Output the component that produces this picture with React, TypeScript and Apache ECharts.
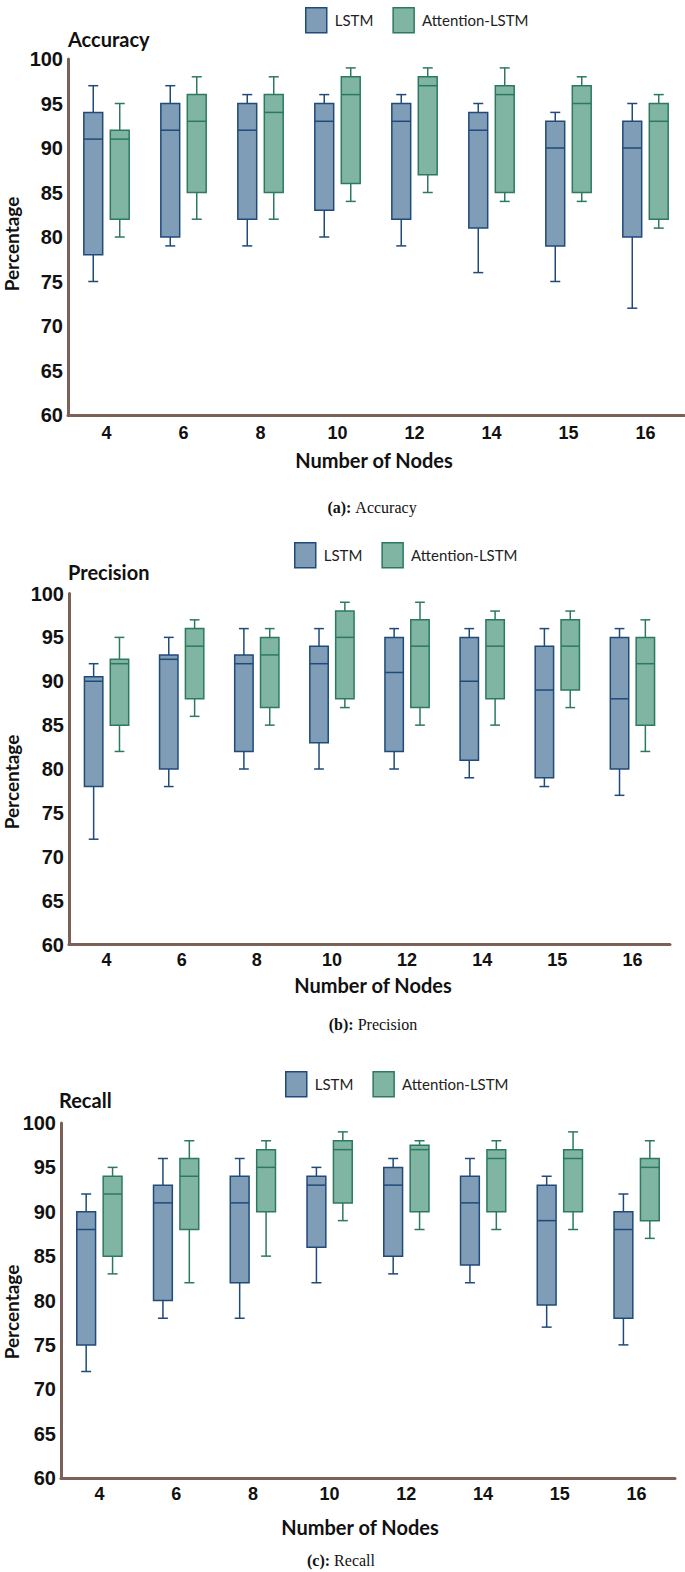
import React, { useEffect, useRef } from "react";
import * as echarts from "echarts";

const categories = ["4", "6", "8", "10", "12", "14", "15", "16"];
const yTicks = { min: 60, max: 100, interval: 5 };
const seriesNames = ["LSTM", "Attention-LSTM"];
const titles = ["Accuracy", "Precision", "Recall"];
const captionLetters = ["(a):", "(b):", "(c):"];

// each row: [min, Q1, median, Q3, max]
const accuracyLstm = [
  [75, 78, 91, 94, 97], [79, 80, 92, 95, 97], [79, 82, 92, 95, 96], [80, 83, 93, 95, 96],
  [79, 82, 93, 95, 96], [76, 81, 92, 94, 95], [75, 79, 90, 93, 94], [72, 80, 90, 93, 95],
];
const accuracyAtt = [
  [80, 82, 91, 92, 95], [82, 85, 93, 96, 98], [82, 85, 94, 96, 98], [84, 86, 96, 98, 99],
  [85, 87, 97, 98, 99], [84, 85, 96, 97, 99], [84, 85, 95, 97, 98], [81, 82, 93, 95, 96],
];
const precisionLstm = [
  [72, 78, 90, 90.5, 92], [78, 80, 92.5, 93, 95], [80, 82, 92, 93, 96], [80, 83, 92, 94, 96],
  [80, 82, 91, 95, 96], [79, 81, 90, 95, 96], [78, 79, 89, 94, 96], [77, 80, 88, 95, 96],
];
const precisionAtt = [
  [82, 85, 92, 92.5, 95], [86, 88, 94, 96, 97], [85, 87, 93, 95, 96], [87, 88, 95, 98, 99],
  [85, 87, 94, 97, 99], [85, 88, 94, 97, 98], [87, 89, 94, 97, 98], [82, 85, 92, 95, 97],
];
const recallLstm = [
  [72, 75, 88, 90, 92], [78, 80, 91, 93, 96], [78, 82, 91, 94, 96], [82, 86, 93, 94, 95],
  [83, 85, 93, 95, 96], [82, 84, 91, 94, 96], [77, 79.5, 89, 93, 94], [75, 78, 88, 90, 92],
];
const recallAtt = [
  [83, 85, 92, 94, 95], [82, 88, 94, 96, 98], [85, 90, 95, 97, 98], [89, 91, 97, 98, 99],
  [88, 90, 97, 97.5, 98], [88, 90, 96, 97, 98], [88, 90, 96, 97, 99], [87, 89, 95, 96, 98],
];

const panelData = [
  [accuracyLstm, accuracyAtt],
  [precisionLstm, precisionAtt],
  [recallLstm, recallAtt],
];

const COLORS = [
  { fill: "#809db7", stroke: "#1f4a7a" },
  { fill: "#80b5a4", stroke: "#2b7a5d" },
];
const AXIS_COLOR = "#7b6157";
const SANS = "Lato";

// layout per panel
const grids = [
  { left: 68, top: 59, width: 616, height: 356 },
  { left: 69, top: 593.5, width: 601, height: 351 },
  { left: 61, top: 1123, width: 614, height: 355 },
];
const legendPos = [
  { left: 300, top: 2 },
  { left: 289, top: 537 },
  { left: 280, top: 1066 },
];
const titlePos = [
  { x: 68, y: 39 },
  { x: 68, y: 572 },
  { x: 59, y: 1100 },
];
const xNamePos = [
  { x: 374, y: 460 },
  { x: 373, y: 985 },
  { x: 360, y: 1527 },
];
const yNamePos = [
  { x: 11, y: 244 },
  { x: 11, y: 782 },
  { x: 11, y: 1312 },
];
const captionPos = [
  { x: 372, y: 507 },
  { x: 373, y: 1024 },
  { x: 341, y: 1560 },
];
const xLabelMargin = [9, 6, 7];

function makeRenderItem(side: number, color: { fill: string; stroke: string }) {
  return (params: any, api: any) => {
    const idx = api.value(0);
    const band = api.size([1, 0])[0];
    const off = side * band * 0.172;
    const bw = band * 0.245;
    const cap = band * 0.13;
    const pMin = api.coord([idx, api.value(1)]);
    const pQ1 = api.coord([idx, api.value(2)]);
    const pMed = api.coord([idx, api.value(3)]);
    const pQ3 = api.coord([idx, api.value(4)]);
    const pMax = api.coord([idx, api.value(5)]);
    const cx = pMin[0] + off;
    const ls = { stroke: color.stroke, lineWidth: 1.5 };
    return {
      type: "group",
      children: [
        { type: "line", shape: { x1: cx, y1: pMax[1], x2: cx, y2: pQ3[1] }, style: ls },
        { type: "line", shape: { x1: cx - cap / 2, y1: pMax[1], x2: cx + cap / 2, y2: pMax[1] }, style: ls },
        { type: "line", shape: { x1: cx, y1: pQ1[1], x2: cx, y2: pMin[1] }, style: ls },
        { type: "line", shape: { x1: cx - cap / 2, y1: pMin[1], x2: cx + cap / 2, y2: pMin[1] }, style: ls },
        {
          type: "rect",
          shape: { x: cx - bw / 2, y: pQ3[1], width: bw, height: pQ1[1] - pQ3[1] },
          style: { fill: color.fill, stroke: color.stroke, lineWidth: 1.5 },
        },
        { type: "line", shape: { x1: cx - bw / 2, y1: pMed[1], x2: cx + bw / 2, y2: pMed[1] }, style: ls },
      ],
    };
  };
}

export default function App() {
  const ref = useRef<HTMLDivElement>(null);
  useEffect(() => {
    if (!ref.current) return;
    const chart = echarts.init(ref.current, null, { renderer: "svg" });

    const series: any[] = [];
    panelData.forEach((pair, p) => {
      pair.forEach((rows, s) => {
        series.push({
          type: "custom",
          name: seriesNames[s],
          xAxisIndex: p,
          yAxisIndex: p,
          clip: false,
          itemStyle: { color: COLORS[s].fill, borderColor: COLORS[s].stroke },
          encode: { x: 0, y: [1, 2, 3, 4, 5] },
          data: rows.map((r, i) => [i, ...r]),
          renderItem: makeRenderItem(s === 0 ? -1 : 1, COLORS[s]),
        });
      });
    });

    const graphic: any[] = [];
    titles.forEach((t, p) => {
      graphic.push({
        type: "text",
        x: titlePos[p].x,
        y: titlePos[p].y,
        style: {
          text: t,
          fontFamily: SANS,
          fontWeight: "bold",
          fontSize: 20,
          fill: "#111",
          textAlign: "left",
          textVerticalAlign: "middle",
        },
      });
      graphic.push({
        type: "text",
        x: xNamePos[p].x,
        y: xNamePos[p].y,
        style: {
          text: "Number of Nodes",
          fontFamily: SANS,
          fontWeight: "bold",
          fontSize: 20,
          fill: "#111",
          textAlign: "center",
          textVerticalAlign: "middle",
        },
      });
      graphic.push({
        type: "text",
        x: yNamePos[p].x,
        y: yNamePos[p].y,
        rotation: Math.PI / 2,
        style: {
          text: "Percentage",
          fontFamily: SANS,
          fontWeight: "bold",
          fontSize: 19,
          fill: "#111",
          textAlign: "center",
          textVerticalAlign: "middle",
        },
      });
      graphic.push({
        type: "text",
        x: captionPos[p].x,
        y: captionPos[p].y,
        style: {
          text: "{b|" + captionLetters[p] + "} {n|" + t + "}",
          rich: {
            b: { fontFamily: "Liberation Serif", fontWeight: "bold", fontSize: 16, fill: "#111" },
            n: { fontFamily: "Liberation Serif", fontSize: 16, fill: "#111" },
          },
          fontFamily: "Liberation Serif",
          fontSize: 16,
          textAlign: "center",
          textVerticalAlign: "middle",
        },
      });
    });

    chart.setOption({
      animation: false,
      backgroundColor: "#fff",
      grid: grids.map((g) => ({ ...g, containLabel: false })),
      legend: legendPos.map((lp) => ({
        left: lp.left,
        top: lp.top,
        orient: "horizontal",
        icon: "rect",
        itemWidth: 21,
        itemHeight: 25,
        itemGap: 19,
        selectedMode: false,
        textStyle: { fontFamily: SANS, fontSize: 15, color: "#222", padding: [0, 0, 0, 3] },
        data: seriesNames.map((n, s) => ({
          name: n,
          itemStyle: { color: COLORS[s].fill, borderColor: COLORS[s].stroke, borderWidth: 1.5 },
        })),
      })),
      xAxis: grids.map((_, p) => ({
        type: "category",
        gridIndex: p,
        data: categories,
        boundaryGap: true,
        axisLine: { show: true, lineStyle: { color: AXIS_COLOR, width: 3 } },
        axisTick: { show: false },
        splitLine: { show: false },
        axisLabel: {
          margin: xLabelMargin[p],
          color: "#111",
          fontFamily: "Liberation Sans",
          fontWeight: "bold",
          fontSize: 18,
        },
      })),
      yAxis: grids.map((_, p) => ({
        type: "value",
        gridIndex: p,
        min: yTicks.min,
        max: yTicks.max,
        interval: yTicks.interval,
        axisLine: { show: true, lineStyle: { color: AXIS_COLOR, width: 3 } },
        axisTick: { show: false },
        splitLine: { show: false },
        axisLabel: {
          margin: 5,
          color: "#111",
          fontFamily: "Liberation Sans",
          fontWeight: "bold",
          fontSize: 20,
        },
      })),
      series,
      graphic,
    });
    return () => chart.dispose();
  }, []);

  return (
    <div
      ref={ref}
      style={{ position: "absolute", left: 0, top: 0, width: 685, height: 1572, background: "#fff" }}
    />
  );
}
